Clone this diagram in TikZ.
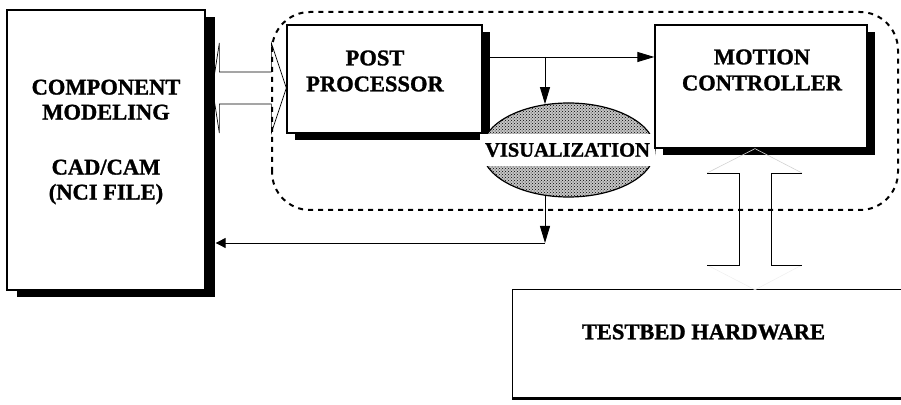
\documentclass[tikz,border=0pt]{standalone}
\usepackage{fontspec}
\setmainfont{Liberation Serif}
\newfontfamily\timesbold{Liberation Serif Bold}[FakeBold=1.2]
\usetikzlibrary{arrows.meta, positioning, calc, shadows, patterns, shapes.geometric}
\tikzstyle{blockbox} = [draw, rectangle, line width=1.3pt, fill=white, inner sep=0pt, drop shadow={shadow xshift=8pt, shadow yshift=-7pt, fill=black, opacity=1}]
\tikzstyle{cadbox} = [draw, rectangle, line width=1.3pt, fill=white, inner sep=0pt, drop shadow={shadow xshift=10pt, shadow yshift=-7pt, fill=black, opacity=1}]
\tikzstyle{hwbox} = [rectangle, fill=white, inner sep=0pt, drop shadow={shadow xshift=-1.5pt, shadow yshift=-2.5pt, fill=black, opacity=1}]
\tikzstyle{blocktext} = [align=center, inner sep=0pt, font=\timesbold\fontsize{22.5}{26}\selectfont]
\tikzstyle{visnode} = [draw, ellipse, line width=1.2pt, inner sep=0pt, preaction={fill=gray!45}, pattern=crosshatch dots, pattern color=black]
\tikzstyle{vislabel} = [fill=white, inner sep=0pt, minimum width=175pt, minimum height=32pt, font=\timesbold\fontsize{20.5}{24}\selectfont]
\tikzstyle{arrw} = [line width=0.9pt, -{Triangle[length=17pt, width=10pt]}]
\tikzstyle{hollowarrw} = [line width=0.7pt]
\tikzstyle{headline} = [line width=0.6pt, color=gray!35]
\tikzstyle{groupframe} = [line width=2pt, dash pattern=on 5pt off 5pt, rounded corners=38pt]
\begin{document}
\begin{tikzpicture}[x=1pt, y=1pt]
    \useasboundingbox (0,0) rectangle (901,404);
    \clip (0,0) rectangle (901,404);

    % dotted group round post processor, visualization and controller
    \draw [groupframe] (272,194) rectangle (898,392);

    \node (pp) [blockbox, minimum width=195pt, minimum height=108pt] at (384.5,325) {};
    \node (pptxt) [blocktext] at (375,333) {POST\\PROCESSOR};

    % hollow two-way arrow, cad <-> post processor
    \draw [hollowarrw] ([yshift=-9pt]pp.west) -- ++(-15,45) -- ++(0,-29) -- ++(-52,0) -- ++(0,29)
        -- ++(-7,-45) -- ++(7,-45) -- ++(0,29) -- ++(52,0) -- ++(0,-29) -- cycle;

    \node (cad) [cadbox, minimum width=198pt, minimum height=280pt] at (106,254) {};
    \node (cadtxt) [blocktext, font=\timesbold\fontsize{22.5}{25}\selectfont] at (106,262) {COMPONENT\\MODELING\\[30pt]CAD/CAM\\(NCI FILE)};

    \node (vis) [visnode, minimum width=173pt, minimum height=94pt] at (568.5,254) {};
    \node (vislbl) [vislabel] at (567.5,254) {VISUALIZATION};

    \node (mc) [blockbox, minimum width=212pt, minimum height=123pt] at (761,317.5) {};
    \node (mctxt) [blocktext] at (762,334) {MOTION\\CONTROLLER};

    % testbed box runs off the right edge
    \node (hw) [hwbox, minimum width=420pt, minimum height=107pt] at (723,60.5) {};
    \draw [line width=1.2pt] (hw.north east) -- (hw.north west) -- (hw.south west) -- (hw.south east);
    \node (hwtxt) [blocktext] at (703.5,72) {TESTBED HARDWARE};

    % data flow
    \coordinate (split) at (545,347);
    \coordinate (turn) at (545,161);
    \draw [arrw] (pp.east |- split) -- (mc.west |- split);
    \draw [arrw] (split) -- (split |- vis.117);
    \draw [arrw] (split |- vis.-117) -- (turn);
    \draw [arrw, -{Triangle[length=10pt, width=10pt]}] (turn) -- ([xshift=10pt]cad.east |- turn);

    % hollow two-way arrow, controller <-> testbed
    \coordinate (link) at (755,185);
    \draw [headline] ([shift={(-48,46)}]link) -- (link |- mc.south) -- ([shift={(47,46)}]link);
    \draw [headline, color=gray!12] ([shift={(-48,-46)}]link) -- (link |- hw.north) -- ([shift={(47,-46)}]link);
    \draw [hollowarrw] ([shift={(-48,46)}]link) -- ++(32,0) -- ++(0,-92) -- ++(-32,0);
    \draw [hollowarrw] ([shift={(47,46)}]link) -- ++(-31,0) -- ++(0,-92) -- ++(31,0);
\end{tikzpicture}
\end{document}
